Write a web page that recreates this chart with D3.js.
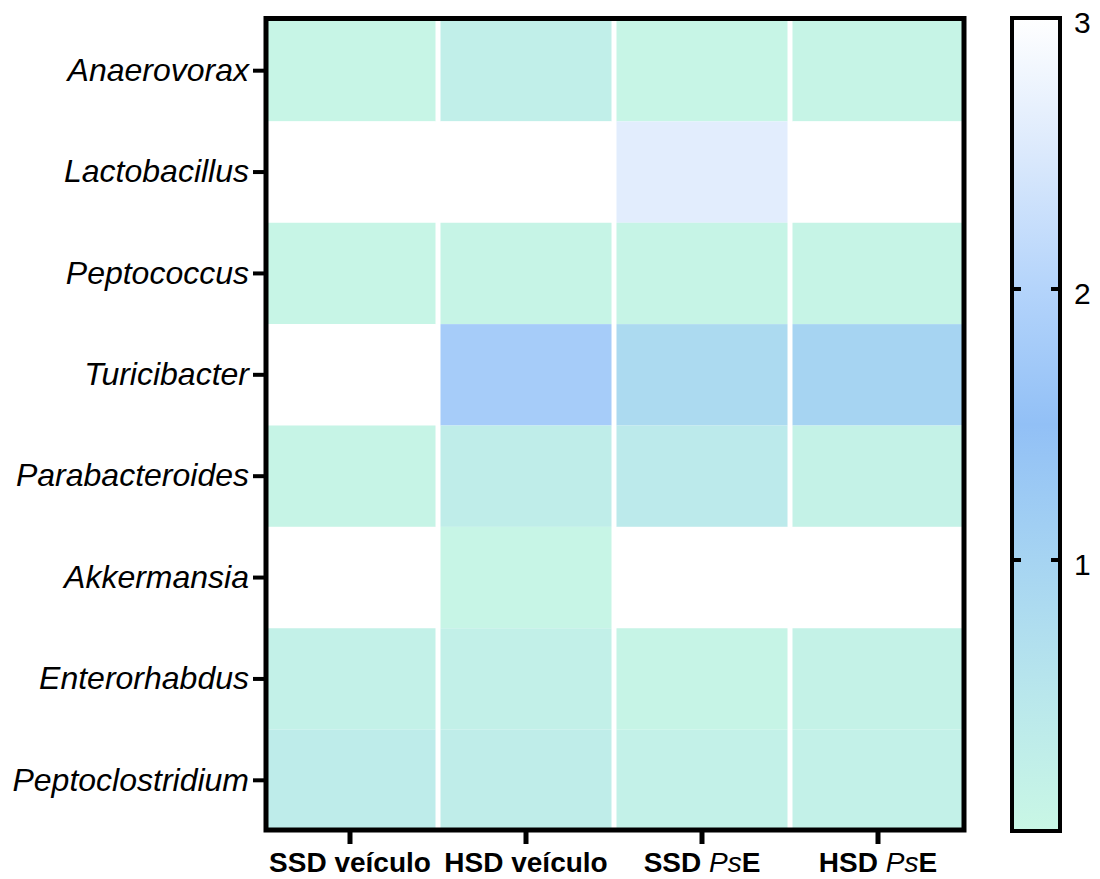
<!DOCTYPE html>
<html>
<head>
<meta charset="utf-8">
<script src="https://cdn.jsdelivr.net/npm/d3@7"></script>
<style>
  body { margin: 0; background: #fff; }
  text { font-family: "Liberation Sans", Arial, sans-serif; }
</style>
</head>
<body>
<svg id="chart" width="1100" height="879"></svg>
<script>
const genera = ["Anaerovorax", "Lactobacillus", "Peptococcus", "Turicibacter",
  "Parabacteroides", "Akkermansia", "Enterorhabdus", "Peptoclostridium"];
const groups = ["SSD veículo", "HSD veículo", "SSD PsE", "HSD PsE"];

// one array per group, in the order of genera
const ssdVeiculo = [0.05, 3.0, 0.05, 3.0, 0.08, 3.0, 0.2, 0.35];
const hsdVeiculo = [0.25, 3.0, 0.1, 1.8, 0.3, 0.05, 0.22, 0.3];
const ssdPsE     = [0.05, 2.6, 0.08, 0.85, 0.4, 3.0, 0.1, 0.2];
const hsdPsE     = [0.1, 3.0, 0.1, 1.0, 0.15, 3.0, 0.15, 0.18];

const colorTicks = [1, 2, 3];
const colorStops = [0, 0.5, 1, 1.5, 2, 2.5, 3];
const colorRange = ["#c9f7e5", "#b9e7ec", "#a6d4f2", "#92c0f6", "#b4d4fb", "#dbe9fc", "#ffffff"];

const seriesByGroup = [ssdVeiculo, hsdVeiculo, ssdPsE, hsdPsE];
const cells = [];
groups.forEach((g, gi) => {
  genera.forEach((r, ri) => cells.push({ group: g, genus: r, value: seriesByGroup[gi][ri] }));
});

const svg = d3.select("#chart");

const x = d3.scaleBand().domain(groups).range([262, 966]);
const y = d3.scaleBand().domain(genera).range([20, 831]);
const color = d3.scaleLinear().domain(colorStops).range(colorRange).clamp(true);

// cells
svg.append("g")
  .selectAll("rect")
  .data(cells)
  .enter()
  .append("rect")
  .attr("x", d => x(d.group) + 2.5)
  .attr("y", d => y(d.genus))
  .attr("width", x.bandwidth() - 5)
  .attr("height", y.bandwidth())
  .attr("fill", d => color(d.value));

// frame
svg.append("rect")
  .attr("x", 266).attr("y", 18.5)
  .attr("width", 698).attr("height", 811.5)
  .attr("fill", "none").attr("stroke", "#000").attr("stroke-width", 5);

// y axis
const yAxis = svg.append("g")
  .attr("transform", "translate(264,0)")
  .call(d3.axisLeft(y).tickSize(11).tickPadding(4));
yAxis.select(".domain").remove();
yAxis.selectAll(".tick line").attr("stroke", "#000").attr("stroke-width", 4);
yAxis.selectAll(".tick text")
  .attr("fill", "#000")
  .style("font-size", "32px")
  .style("font-style", "italic");

// x axis
const xAxis = svg.append("g")
  .attr("transform", "translate(0,832)")
  .call(d3.axisBottom(x).tickSize(12).tickPadding(8).tickFormat(""));
xAxis.select(".domain").remove();
xAxis.selectAll(".tick line").attr("stroke", "#000").attr("stroke-width", 5);
xAxis.selectAll(".tick text").each(function(d) {
  const t = d3.select(this)
    .attr("fill", "#000")
    .attr("y", 40)
    .attr("dy", null)
    .style("font-size", "28px")
    .style("font-weight", "bold");
  const parts = d.split("Ps");
  t.append("tspan").text(parts[0]);
  if (parts.length > 1) {
    t.append("tspan").style("font-style", "italic").style("font-weight", "normal").text("Ps");
    t.append("tspan").text(parts[1]);
  }
});

// colour bar
const cb = { x: 1012, y: 18, w: 48, h: 813 };
const cy = d3.scaleLinear().domain([0, 3]).range([cb.y + cb.h, cb.y]);

const grad = svg.append("defs").append("linearGradient")
  .attr("id", "cbgrad")
  .attr("x1", 0).attr("y1", 1).attr("x2", 0).attr("y2", 0);
grad.selectAll("stop")
  .data(colorStops)
  .enter()
  .append("stop")
  .attr("offset", d => d / 3)
  .attr("stop-color", d => color(d));

svg.append("rect")
  .attr("x", cb.x).attr("y", cb.y)
  .attr("width", cb.w).attr("height", cb.h)
  .attr("fill", "url(#cbgrad)")
  .attr("stroke", "#000").attr("stroke-width", 4);

const cbTicks = svg.append("g");
cbTicks.selectAll("line.l")
  .data(colorTicks.filter(v => v < 3))
  .enter().append("line")
  .attr("x1", cb.x).attr("x2", cb.x + 9)
  .attr("y1", d => cy(d)).attr("y2", d => cy(d))
  .attr("stroke", "#000").attr("stroke-width", 4);
cbTicks.selectAll("line.r")
  .data(colorTicks.filter(v => v < 3))
  .enter().append("line")
  .attr("x1", cb.x + cb.w - 9).attr("x2", cb.x + cb.w)
  .attr("y1", d => cy(d)).attr("y2", d => cy(d))
  .attr("stroke", "#000").attr("stroke-width", 4);
cbTicks.selectAll("text")
  .data(colorTicks)
  .enter().append("text")
  .attr("x", 1074)
  .attr("y", d => cy(d) + 4)
  .attr("dy", "0.35em")
  .style("font-size", "30px")
  .attr("fill", "#000")
  .text(d => d);
</script>
</body>
</html>
